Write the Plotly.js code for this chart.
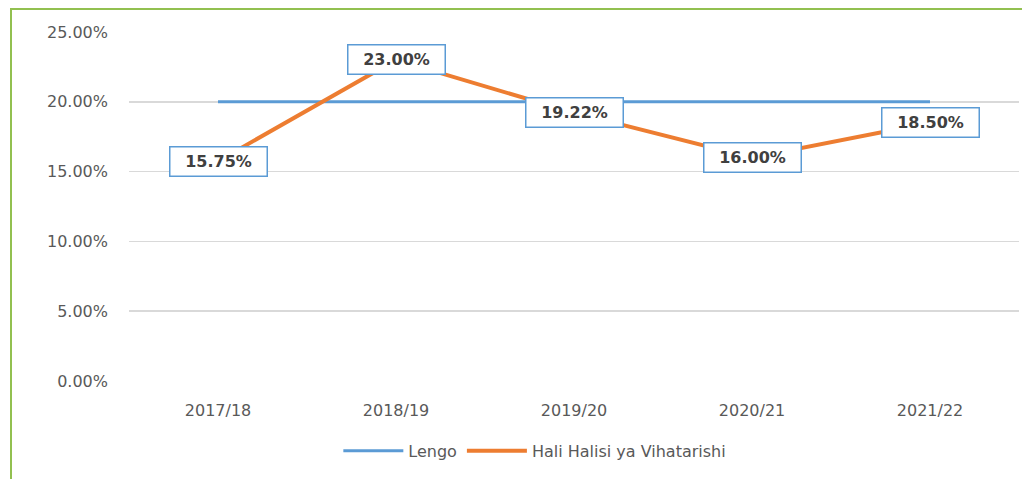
<!DOCTYPE html>
<html>
<head>
<meta charset="utf-8">
<script src="https://cdn.plot.ly/plotly-3.0.1.min.js"></script>
<style>
html,body{margin:0;padding:0;background:#fff;}
#wrap{position:relative;width:1022px;height:479px;overflow:hidden;}
#chart{position:absolute;left:0;top:0;width:1022px;height:479px;}
#frame{position:absolute;left:10px;top:8px;width:1030px;height:490px;border-left:2px solid #92c050;border-top:2px solid #92c050;pointer-events:none;box-sizing:border-box;}
</style>
</head>
<body>
<div id="wrap">
<div id="chart"></div>
<div id="frame"></div>
</div>
<script>
const categories = ["2017/18", "2018/19", "2019/20", "2020/21", "2021/22"];
const lengo = [20, 20, 20, 20, 20];
const haliHalisi = [15.75, 23.00, 19.22, 16.00, 18.50];
const yTicks = [0, 5, 10, 15, 20, 25];
const yTickLabels = ["0.00%", "5.00%", "10.00%", "15.00%", "20.00%", "25.00%"];

const font = "DejaVu Sans, Verdana, sans-serif";

const traces = [
  {x: categories, y: lengo, name: "Lengo", type: "scatter", mode: "lines",
   line: {color: "#5b9bd5", width: 3}},
  {x: categories, y: haliHalisi, name: "Hali Halisi ya Vihatarishi", type: "scatter", mode: "lines",
   line: {color: "#ed7d31", width: 4}}
];

const annotations = categories.map((c, i) => ({
  x: c, y: haliHalisi[i], xref: "x", yref: "y",
  text: haliHalisi[i].toFixed(2) + "%",
  showarrow: false, xanchor: "center", yanchor: "middle",
  width: 92, height: 24, align: "center",
  bgcolor: "#ffffff", bordercolor: "#5b9bd5", borderwidth: 1.5, borderpad: 2,
  font: {family: font, size: 16, color: "#404040", weight: 600}
}));

const layout = {
  width: 1022, height: 479,
  margin: {l: 129, r: 3, t: 32, b: 98},
  paper_bgcolor: "#ffffff", plot_bgcolor: "#ffffff",
  showlegend: true,
  legend: {orientation: "h", x: 0.456, xanchor: "center", y: -0.2, yanchor: "middle",
    font: {family: font, size: 16, color: "#595959"}, itemwidth: 60},
  xaxis: {type: "category", range: [-0.5, 4.5], showgrid: false, zeroline: false,
    showline: false, ticks: "", ticklabelstandoff: 18,
    tickfont: {family: font, size: 16, color: "#595959"}},
  yaxis: {range: [0, 25], tickvals: yTicks, ticktext: yTickLabels, showgrid: true,
    gridcolor: "#d9d9d9", gridwidth: 1.5, zeroline: false, showline: false, ticks: "",
    ticklabelstandoff: 20,
    tickfont: {family: font, size: 16, color: "#595959"}},
  annotations: annotations
};

Plotly.newPlot("chart", traces, layout, {displayModeBar: false, staticPlot: true});
</script>
</body>
</html>
